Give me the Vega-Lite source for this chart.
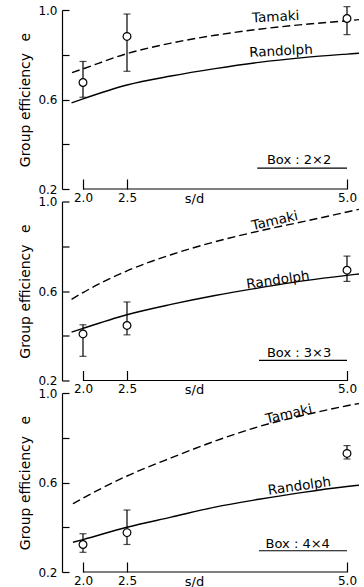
{
  "$schema": "https://vega.github.io/schema/vega-lite/v6.json",
  "padding": {"left": 18, "top": 4, "right": 0, "bottom": 0},
  "background": "white",
  "datasets": {
    "curves": [
      {"box": "2×2", "model": "Tamaki", "sd": 1.875, "e": 0.72},
      {"box": "2×2", "model": "Tamaki", "sd": 2.0, "e": 0.737},
      {"box": "2×2", "model": "Tamaki", "sd": 2.5, "e": 0.805},
      {"box": "2×2", "model": "Tamaki", "sd": 3.0, "e": 0.852},
      {"box": "2×2", "model": "Tamaki", "sd": 3.5, "e": 0.887},
      {"box": "2×2", "model": "Tamaki", "sd": 4.0, "e": 0.914},
      {"box": "2×2", "model": "Tamaki", "sd": 4.5, "e": 0.935},
      {"box": "2×2", "model": "Tamaki", "sd": 5.0, "e": 0.952},
      {"box": "2×2", "model": "Tamaki", "sd": 5.136, "e": 0.957},
      {"box": "2×2", "model": "Randolph", "sd": 1.87, "e": 0.585},
      {"box": "2×2", "model": "Randolph", "sd": 2.0, "e": 0.603},
      {"box": "2×2", "model": "Randolph", "sd": 2.5, "e": 0.665},
      {"box": "2×2", "model": "Randolph", "sd": 3.0, "e": 0.705},
      {"box": "2×2", "model": "Randolph", "sd": 3.5, "e": 0.738},
      {"box": "2×2", "model": "Randolph", "sd": 4.0, "e": 0.766},
      {"box": "2×2", "model": "Randolph", "sd": 4.5, "e": 0.787},
      {"box": "2×2", "model": "Randolph", "sd": 5.0, "e": 0.803},
      {"box": "2×2", "model": "Randolph", "sd": 5.136, "e": 0.807},
      {"box": "3×3", "model": "Tamaki", "sd": 1.87, "e": 0.563},
      {"box": "3×3", "model": "Tamaki", "sd": 2.0, "e": 0.593},
      {"box": "3×3", "model": "Tamaki", "sd": 2.5, "e": 0.69},
      {"box": "3×3", "model": "Tamaki", "sd": 3.0, "e": 0.762},
      {"box": "3×3", "model": "Tamaki", "sd": 3.5, "e": 0.82},
      {"box": "3×3", "model": "Tamaki", "sd": 4.0, "e": 0.868},
      {"box": "3×3", "model": "Tamaki", "sd": 4.5, "e": 0.91},
      {"box": "3×3", "model": "Tamaki", "sd": 5.0, "e": 0.953},
      {"box": "3×3", "model": "Tamaki", "sd": 5.136, "e": 0.965},
      {"box": "3×3", "model": "Randolph", "sd": 1.87, "e": 0.416},
      {"box": "3×3", "model": "Randolph", "sd": 2.0, "e": 0.433},
      {"box": "3×3", "model": "Randolph", "sd": 2.5, "e": 0.494},
      {"box": "3×3", "model": "Randolph", "sd": 3.0, "e": 0.54},
      {"box": "3×3", "model": "Randolph", "sd": 3.5, "e": 0.58},
      {"box": "3×3", "model": "Randolph", "sd": 4.0, "e": 0.614},
      {"box": "3×3", "model": "Randolph", "sd": 4.5, "e": 0.645},
      {"box": "3×3", "model": "Randolph", "sd": 5.0, "e": 0.67},
      {"box": "3×3", "model": "Randolph", "sd": 5.136, "e": 0.676},
      {"box": "4×4", "model": "Tamaki", "sd": 1.886, "e": 0.505},
      {"box": "4×4", "model": "Tamaki", "sd": 2.0, "e": 0.53},
      {"box": "4×4", "model": "Tamaki", "sd": 2.5, "e": 0.629},
      {"box": "4×4", "model": "Tamaki", "sd": 3.0, "e": 0.71},
      {"box": "4×4", "model": "Tamaki", "sd": 3.5, "e": 0.785},
      {"box": "4×4", "model": "Tamaki", "sd": 4.0, "e": 0.85},
      {"box": "4×4", "model": "Tamaki", "sd": 4.5, "e": 0.9},
      {"box": "4×4", "model": "Tamaki", "sd": 5.0, "e": 0.943},
      {"box": "4×4", "model": "Tamaki", "sd": 5.136, "e": 0.953},
      {"box": "4×4", "model": "Randolph", "sd": 1.886, "e": 0.333},
      {"box": "4×4", "model": "Randolph", "sd": 2.0, "e": 0.345},
      {"box": "4×4", "model": "Randolph", "sd": 2.5, "e": 0.4},
      {"box": "4×4", "model": "Randolph", "sd": 3.0, "e": 0.445},
      {"box": "4×4", "model": "Randolph", "sd": 3.5, "e": 0.49},
      {"box": "4×4", "model": "Randolph", "sd": 4.0, "e": 0.525},
      {"box": "4×4", "model": "Randolph", "sd": 4.5, "e": 0.556},
      {"box": "4×4", "model": "Randolph", "sd": 5.0, "e": 0.582},
      {"box": "4×4", "model": "Randolph", "sd": 5.136, "e": 0.588}
    ],
    "tests": [
      {"box": "2×2", "sd": 2.0, "e": 0.676, "lo": 0.61, "hi": 0.77},
      {"box": "2×2", "sd": 2.5, "e": 0.882, "lo": 0.726, "hi": 0.982},
      {"box": "2×2", "sd": 5.0, "e": 0.962, "lo": 0.89, "hi": 1.015},
      {"box": "3×3", "sd": 2.0, "e": 0.408, "lo": 0.308, "hi": 0.449},
      {"box": "3×3", "sd": 2.5, "e": 0.446, "lo": 0.404, "hi": 0.551},
      {"box": "3×3", "sd": 5.0, "e": 0.693, "lo": 0.643, "hi": 0.756},
      {"box": "4×4", "sd": 2.0, "e": 0.323, "lo": 0.288, "hi": 0.371},
      {"box": "4×4", "sd": 2.5, "e": 0.376, "lo": 0.323, "hi": 0.477},
      {"box": "4×4", "sd": 5.0, "e": 0.73, "lo": 0.705, "hi": 0.765}
    ]
  },
  "vconcat": [
    {
      "width": 297,
      "height": 179,
      "layer": [
        {
          "data": {"name": "curves"},
          "transform": [{"filter": "datum.box === '2×2' && datum.model === 'Tamaki'"}],
          "mark": {"type": "line", "color": "black", "strokeWidth": 1.4, "strokeDash": [8, 4], "interpolate": "monotone"},
          "encoding": {
            "x": {"field": "sd", "type": "quantitative", "scale": {"domain": [1.7614, 5.1364], "nice": false, "zero": false},
                  "axis": {"values": [2.0, 2.5, 5.0], "format": ".1f", "domain": false, "tickSize": -10, "labelPadding": 13, "labelFlush": false, "title": "s/d", "titleFontSize": 13, "titleX": 132, "titleY": 3, "titleBaseline": "top"}},
            "y": {"field": "e", "type": "quantitative", "scale": {"domain": [0.2, 1.0], "nice": false, "zero": false},
                  "axis": {"values": [0.2, 0.4, 0.6, 0.8, 1.0], "labelExpr": "datum.value == 0.4 || datum.value == 0.8 ? '' : format(datum.value, '.1f')", "tickSize": -7, "labelPadding": 12, "title": "Group efficiency\u2002\u00a0e", "titlePadding": 5.5}}
          }
        },
        {
          "data": {"name": "curves"},
          "transform": [{"filter": "datum.box === '2×2' && datum.model === 'Randolph'"}],
          "mark": {"type": "line", "color": "black", "strokeWidth": 1.4, "interpolate": "monotone"},
          "encoding": {"x": {"field": "sd", "type": "quantitative"}, "y": {"field": "e", "type": "quantitative"}}
        },
        {
          "data": {"values": [{}]},
          "mark": {"type": "rule", "color": "black", "strokeWidth": 1.2},
          "encoding": {"x": {"datum": 2.0, "type": "quantitative"}, "x2": {"datum": 5.0}, "y": {"datum": 0.2, "type": "quantitative"}}
        },
        {
          "data": {"name": "tests"},
          "transform": [{"filter": "datum.box === '2×2'"}],
          "mark": {"type": "rule", "color": "black", "strokeWidth": 1.2},
          "encoding": {"x": {"field": "sd", "type": "quantitative"}, "y": {"field": "lo", "type": "quantitative"}, "y2": {"field": "hi"}}
        },
        {
          "data": {"name": "tests"},
          "transform": [{"filter": "datum.box === '2×2'"}],
          "mark": {"type": "tick", "orient": "horizontal", "color": "black", "size": 7, "thickness": 1.2},
          "encoding": {"x": {"field": "sd", "type": "quantitative"}, "y": {"field": "lo", "type": "quantitative"}}
        },
        {
          "data": {"name": "tests"},
          "transform": [{"filter": "datum.box === '2×2'"}],
          "mark": {"type": "tick", "orient": "horizontal", "color": "black", "size": 7, "thickness": 1.2},
          "encoding": {"x": {"field": "sd", "type": "quantitative"}, "y": {"field": "hi", "type": "quantitative"}}
        },
        {
          "data": {"name": "tests"},
          "transform": [{"filter": "datum.box === '2×2'"}],
          "mark": {"type": "point", "shape": "circle", "size": 60, "filled": true, "fill": "white", "stroke": "black", "strokeWidth": 1.2, "opacity": 1},
          "encoding": {"x": {"field": "sd", "type": "quantitative"}, "y": {"field": "e", "type": "quantitative"}}
        },
        {
          "data": {"values": [{}]},
          "mark": {"type": "text", "text": "Tamaki", "angle": -3, "fontSize": 13.5, "color": "black"},
          "encoding": {"x": {"datum": 4.19, "type": "quantitative"}, "y": {"datum": 0.968, "type": "quantitative"}}
        },
        {
          "data": {"values": [{}]},
          "mark": {"type": "text", "text": "Randolph", "angle": -3, "fontSize": 13.5, "color": "black"},
          "encoding": {"x": {"datum": 4.25, "type": "quantitative"}, "y": {"datum": 0.815, "type": "quantitative"}}
        },
        {
          "data": {"values": [{}]},
          "mark": {"type": "text", "text": "Box : 2×2", "fontSize": 13, "color": "black"},
          "encoding": {"x": {"datum": 4.455, "type": "quantitative"}, "y": {"datum": 0.33, "type": "quantitative"}}
        },
        {
          "data": {"values": [{}]},
          "mark": {"type": "rule", "color": "black", "strokeWidth": 1.2},
          "encoding": {"x": {"datum": 3.98, "type": "quantitative"}, "x2": {"datum": 5.0}, "y": {"datum": 0.293, "type": "quantitative"}}
        }
      ]
    },
    {
      "width": 297,
      "height": 179,
      "layer": [
        {
          "data": {"name": "curves"},
          "transform": [{"filter": "datum.box === '3×3' && datum.model === 'Tamaki'"}],
          "mark": {"type": "line", "color": "black", "strokeWidth": 1.4, "strokeDash": [8, 4], "interpolate": "monotone"},
          "encoding": {
            "x": {"field": "sd", "type": "quantitative", "scale": {"domain": [1.7614, 5.1364], "nice": false, "zero": false},
                  "axis": {"values": [2.0, 2.5, 5.0], "format": ".1f", "domain": false, "tickSize": -10, "labelPadding": 13, "labelFlush": false, "title": "s/d", "titleFontSize": 13, "titleX": 132, "titleY": 3, "titleBaseline": "top"}},
            "y": {"field": "e", "type": "quantitative", "scale": {"domain": [0.2, 1.0], "nice": false, "zero": false},
                  "axis": {"values": [0.2, 0.4, 0.6, 0.8, 1.0], "labelExpr": "datum.value == 0.4 || datum.value == 0.8 ? '' : format(datum.value, '.1f')", "tickSize": -7, "labelPadding": 12, "title": "Group efficiency\u2002\u00a0e", "titlePadding": 5.5}}
          }
        },
        {
          "data": {"name": "curves"},
          "transform": [{"filter": "datum.box === '3×3' && datum.model === 'Randolph'"}],
          "mark": {"type": "line", "color": "black", "strokeWidth": 1.4, "interpolate": "monotone"},
          "encoding": {"x": {"field": "sd", "type": "quantitative"}, "y": {"field": "e", "type": "quantitative"}}
        },
        {
          "data": {"values": [{}]},
          "mark": {"type": "rule", "color": "black", "strokeWidth": 1.2},
          "encoding": {"x": {"datum": 2.0, "type": "quantitative"}, "x2": {"datum": 5.0}, "y": {"datum": 0.2, "type": "quantitative"}}
        },
        {
          "data": {"name": "tests"},
          "transform": [{"filter": "datum.box === '3×3'"}],
          "mark": {"type": "rule", "color": "black", "strokeWidth": 1.2},
          "encoding": {"x": {"field": "sd", "type": "quantitative"}, "y": {"field": "lo", "type": "quantitative"}, "y2": {"field": "hi"}}
        },
        {
          "data": {"name": "tests"},
          "transform": [{"filter": "datum.box === '3×3'"}],
          "mark": {"type": "tick", "orient": "horizontal", "color": "black", "size": 7, "thickness": 1.2},
          "encoding": {"x": {"field": "sd", "type": "quantitative"}, "y": {"field": "lo", "type": "quantitative"}}
        },
        {
          "data": {"name": "tests"},
          "transform": [{"filter": "datum.box === '3×3'"}],
          "mark": {"type": "tick", "orient": "horizontal", "color": "black", "size": 7, "thickness": 1.2},
          "encoding": {"x": {"field": "sd", "type": "quantitative"}, "y": {"field": "hi", "type": "quantitative"}}
        },
        {
          "data": {"name": "tests"},
          "transform": [{"filter": "datum.box === '3×3'"}],
          "mark": {"type": "point", "shape": "circle", "size": 60, "filled": true, "fill": "white", "stroke": "black", "strokeWidth": 1.2, "opacity": 1},
          "encoding": {"x": {"field": "sd", "type": "quantitative"}, "y": {"field": "e", "type": "quantitative"}}
        },
        {
          "data": {"values": [{}]},
          "mark": {"type": "text", "text": "Tamaki", "angle": -13, "fontSize": 13.5, "color": "black"},
          "encoding": {"x": {"datum": 4.18, "type": "quantitative"}, "y": {"datum": 0.913, "type": "quantitative"}}
        },
        {
          "data": {"values": [{}]},
          "mark": {"type": "text", "text": "Randolph", "angle": -8, "fontSize": 13.5, "color": "black"},
          "encoding": {"x": {"datum": 4.216, "type": "quantitative"}, "y": {"datum": 0.648, "type": "quantitative"}}
        },
        {
          "data": {"values": [{}]},
          "mark": {"type": "text", "text": "Box : 3×3", "fontSize": 13, "color": "black"},
          "encoding": {"x": {"datum": 4.455, "type": "quantitative"}, "y": {"datum": 0.321, "type": "quantitative"}}
        },
        {
          "data": {"values": [{}]},
          "mark": {"type": "rule", "color": "black", "strokeWidth": 1.2},
          "encoding": {"x": {"datum": 4.0, "type": "quantitative"}, "x2": {"datum": 5.0}, "y": {"datum": 0.29, "type": "quantitative"}}
        }
      ]
    },
    {
      "width": 297,
      "height": 179,
      "layer": [
        {
          "data": {"name": "curves"},
          "transform": [{"filter": "datum.box === '4×4' && datum.model === 'Tamaki'"}],
          "mark": {"type": "line", "color": "black", "strokeWidth": 1.4, "strokeDash": [8, 4], "interpolate": "monotone"},
          "encoding": {
            "x": {"field": "sd", "type": "quantitative", "scale": {"domain": [1.7614, 5.1364], "nice": false, "zero": false},
                  "axis": {"values": [2.0, 2.5, 5.0], "format": ".1f", "domain": false, "tickSize": -10, "labelPadding": 13, "labelFlush": false, "title": "s/d", "titleFontSize": 13, "titleX": 132, "titleY": 3, "titleBaseline": "top"}},
            "y": {"field": "e", "type": "quantitative", "scale": {"domain": [0.2, 1.0], "nice": false, "zero": false},
                  "axis": {"values": [0.2, 0.4, 0.6, 0.8, 1.0], "labelExpr": "datum.value == 0.4 || datum.value == 0.8 ? '' : format(datum.value, '.1f')", "tickSize": -7, "labelPadding": 12, "title": "Group efficiency\u2002\u00a0e", "titlePadding": 5.5}}
          }
        },
        {
          "data": {"name": "curves"},
          "transform": [{"filter": "datum.box === '4×4' && datum.model === 'Randolph'"}],
          "mark": {"type": "line", "color": "black", "strokeWidth": 1.4, "interpolate": "monotone"},
          "encoding": {"x": {"field": "sd", "type": "quantitative"}, "y": {"field": "e", "type": "quantitative"}}
        },
        {
          "data": {"values": [{}]},
          "mark": {"type": "rule", "color": "black", "strokeWidth": 1.2},
          "encoding": {"x": {"datum": 2.0, "type": "quantitative"}, "x2": {"datum": 5.0}, "y": {"datum": 0.2, "type": "quantitative"}}
        },
        {
          "data": {"name": "tests"},
          "transform": [{"filter": "datum.box === '4×4'"}],
          "mark": {"type": "rule", "color": "black", "strokeWidth": 1.2},
          "encoding": {"x": {"field": "sd", "type": "quantitative"}, "y": {"field": "lo", "type": "quantitative"}, "y2": {"field": "hi"}}
        },
        {
          "data": {"name": "tests"},
          "transform": [{"filter": "datum.box === '4×4'"}],
          "mark": {"type": "tick", "orient": "horizontal", "color": "black", "size": 7, "thickness": 1.2},
          "encoding": {"x": {"field": "sd", "type": "quantitative"}, "y": {"field": "lo", "type": "quantitative"}}
        },
        {
          "data": {"name": "tests"},
          "transform": [{"filter": "datum.box === '4×4'"}],
          "mark": {"type": "tick", "orient": "horizontal", "color": "black", "size": 7, "thickness": 1.2},
          "encoding": {"x": {"field": "sd", "type": "quantitative"}, "y": {"field": "hi", "type": "quantitative"}}
        },
        {
          "data": {"name": "tests"},
          "transform": [{"filter": "datum.box === '4×4'"}],
          "mark": {"type": "point", "shape": "circle", "size": 60, "filled": true, "fill": "white", "stroke": "black", "strokeWidth": 1.2, "opacity": 1},
          "encoding": {"x": {"field": "sd", "type": "quantitative"}, "y": {"field": "e", "type": "quantitative"}}
        },
        {
          "data": {"values": [{}]},
          "mark": {"type": "text", "text": "Tamaki", "angle": -13, "fontSize": 13.5, "color": "black"},
          "encoding": {"x": {"datum": 4.34, "type": "quantitative"}, "y": {"datum": 0.905, "type": "quantitative"}}
        },
        {
          "data": {"values": [{}]},
          "mark": {"type": "text", "text": "Randolph", "angle": -8, "fontSize": 13.5, "color": "black"},
          "encoding": {"x": {"datum": 4.46, "type": "quantitative"}, "y": {"datum": 0.583, "type": "quantitative"}}
        },
        {
          "data": {"values": [{}]},
          "mark": {"type": "text", "text": "Box : 4×4", "fontSize": 13, "color": "black"},
          "encoding": {"x": {"datum": 4.44, "type": "quantitative"}, "y": {"datum": 0.325, "type": "quantitative"}}
        },
        {
          "data": {"values": [{}]},
          "mark": {"type": "rule", "color": "black", "strokeWidth": 1.2},
          "encoding": {"x": {"datum": 4.0, "type": "quantitative"}, "x2": {"datum": 5.0}, "y": {"datum": 0.295, "type": "quantitative"}}
        }
      ]
    }
  ],
  "spacing": 12.5,
  "bounds": "flush",
  "config": {
    "view": {"stroke": null},
    "font": "DejaVu Sans",
    "text": {"font": "DejaVu Sans"},
    "axis": {
      "grid": false,
      "domainColor": "black",
      "domainWidth": 1.2,
      "tickColor": "black",
      "tickWidth": 1.2,
      "labelColor": "black",
      "labelFont": "DejaVu Sans",
      "labelFontSize": 12,
      "titleColor": "black",
      "titleFont": "DejaVu Sans",
      "titleFontSize": 14,
      "titleFontWeight": "normal"
    }
  }
}
